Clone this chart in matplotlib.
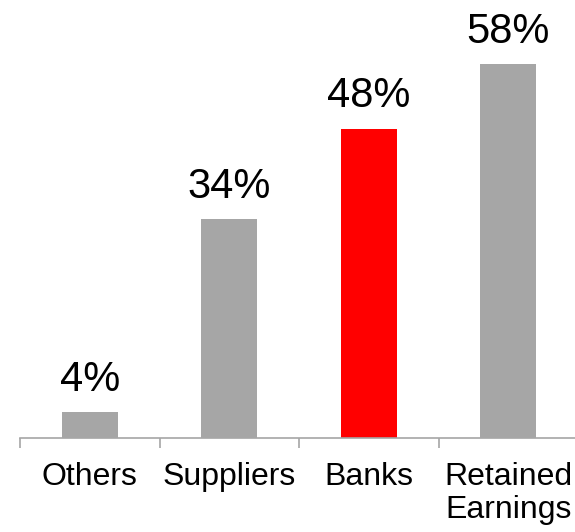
import matplotlib
matplotlib.use("Agg")
import matplotlib.pyplot as plt

categories = ["Others", "Suppliers", "Banks", "Retained\nEarnings"]
values = [4, 34, 48, 58]
colors = ["#A6A6A6", "#A6A6A6", "#FF0000", "#A6A6A6"]

plt.rcParams['font.family'] = ['Liberation Sans', 'DejaVu Sans']

fig = plt.figure(figsize=(5.75, 5.32), dpi=100)
ax = fig.add_axes([20/575, (532-438)/532, 558/575, 438/532])
x = list(range(len(categories)))
bars = ax.bar(x, values, width=0.4, color=colors)
for xi, v in zip(x, values):
    ax.annotate(f"{v}%", (xi, v), xytext=(0, 9), textcoords="offset points",
                ha="center", va="bottom", fontsize=30)

ax.set_xlim(-0.5, 3.5)
ax.set_ylim(0, 68)
ax.set_yticks([])
for s in ["top", "right", "left"]:
    ax.spines[s].set_visible(False)
ax.spines["bottom"].set_color("#A6A6A6")
ax.spines["bottom"].set_linewidth(1.2)
ax.set_xticks([-0.5, 0.5, 1.5, 2.5, 3.5])
ax.set_xticklabels([])
ax.tick_params(axis="x", which="major", length=7, width=1.2, color="#A6A6A6")
ax.set_xticks(x, minor=True)
ax.set_xticklabels(categories, minor=True, fontsize=23, linespacing=1.15)
ax.tick_params(axis="x", which="minor", length=0, pad=17)

fig.savefig("out.png", dpi=100)
